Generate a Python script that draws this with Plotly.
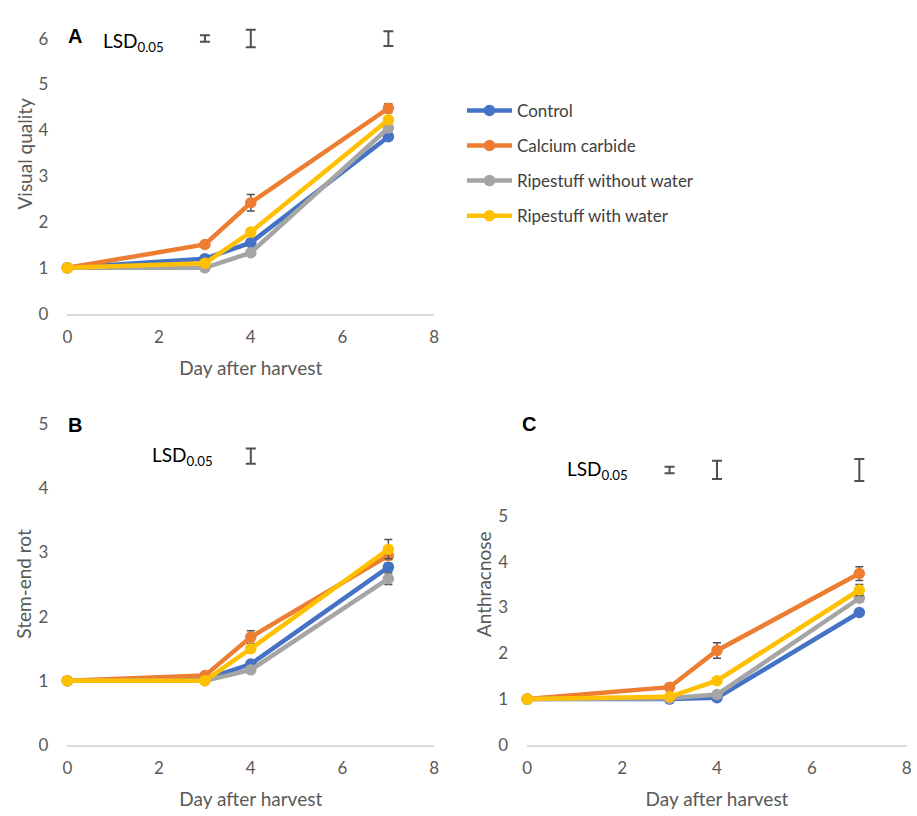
import plotly.graph_objects as go

# ---------------- data ----------------
days = [0, 3, 4, 7]
series_names = ["Control", "Calcium carbide", "Ripestuff without water", "Ripestuff with water"]
colors = ["#4472C4", "#ED7D31", "#A5A5A5", "#FFC000"]

# Panel A: Visual quality
vq_control = [1.0, 1.20, 1.55, 3.86]
vq_calcium = [1.0, 1.51, 2.42, 4.48]
vq_ripe_wo = [1.0, 1.00, 1.33, 4.05]
vq_ripe_w = [1.0, 1.10, 1.78, 4.23]
vq_err_control = [0.0, 0.05, 0.05, 0.05]
vq_err_calcium = [0.0, 0.05, 0.18, 0.10]
vq_err_ripe_wo = [0.0, 0.05, 0.05, 0.05]
vq_err_ripe_w = [0.0, 0.05, 0.05, 0.05]
lsd_days_A = [3, 4, 7]
lsd_A = [0.07, 0.19, 0.16]

# Panel B: Stem-end rot
ser_control = [1.0, 1.02, 1.26, 2.77]
ser_calcium = [1.0, 1.08, 1.68, 2.95]
ser_ripe_wo = [1.0, 1.00, 1.17, 2.59]
ser_ripe_w = [1.0, 1.00, 1.50, 3.05]
ser_err_control = [0.0, 0.03, 0.05, 0.06]
ser_err_calcium = [0.0, 0.03, 0.10, 0.06]
ser_err_ripe_wo = [0.0, 0.03, 0.05, 0.09]
ser_err_ripe_w = [0.0, 0.03, 0.05, 0.15]
lsd_days_B = [4]
lsd_B = [0.12]

# Panel C: Anthracnose
an_control = [1.0, 1.00, 1.03, 2.89]
an_calcium = [1.0, 1.26, 2.06, 3.74]
an_ripe_wo = [1.0, 1.02, 1.10, 3.20]
an_ripe_w = [1.0, 1.05, 1.40, 3.38]
an_err_control = [0.0, 0.03, 0.05, 0.06]
an_err_calcium = [0.0, 0.05, 0.17, 0.15]
an_err_ripe_wo = [0.0, 0.03, 0.05, 0.08]
an_err_ripe_w = [0.0, 0.03, 0.05, 0.12]
lsd_days_C = [3, 4, 7]
lsd_C = [0.07, 0.20, 0.24]

panels = [
    dict(xa="x", ya="y", vals=[vq_control, vq_calcium, vq_ripe_wo, vq_ripe_w],
         errs=[vq_err_control, vq_err_calcium, vq_err_ripe_wo, vq_err_ripe_w],
         lsd_x=lsd_days_A, lsd=lsd_A, lsd_y=6.0, legend=True),
    dict(xa="x2", ya="y2", vals=[ser_control, ser_calcium, ser_ripe_wo, ser_ripe_w],
         errs=[ser_err_control, ser_err_calcium, ser_err_ripe_wo, ser_err_ripe_w],
         lsd_x=lsd_days_B, lsd=lsd_B, lsd_y=4.5, legend=False),
    dict(xa="x3", ya="y3", vals=[an_control, an_calcium, an_ripe_wo, an_ripe_w],
         errs=[an_err_control, an_err_calcium, an_err_ripe_wo, an_err_ripe_w],
         lsd_x=lsd_days_C, lsd=lsd_C, lsd_y=6.0, legend=False),
]

FONT = "Lato, 'Open Sans', sans-serif"
AXC = "#595959"
ERRC = "#505050"

fig = go.Figure()
for p in panels:
    for name, col, v, e in zip(series_names, colors, p["vals"], p["errs"]):
        fig.add_trace(go.Scatter(
            x=days, y=v, name=name, mode="lines+markers",
            line=dict(color=col, width=4.5),
            marker=dict(color=col, size=11.5),
            error_y=dict(type="data", array=e, visible=True, color=ERRC,
                         thickness=1.5, width=4),
            xaxis=p["xa"], yaxis=p["ya"],
            showlegend=p["legend"], legendgroup=name,
            cliponaxis=False,
        ))
    fig.add_trace(go.Scatter(
        x=p["lsd_x"], y=[p["lsd_y"]] * len(p["lsd_x"]), mode="markers",
        marker=dict(size=1, color="rgba(0,0,0,0)"),
        error_y=dict(type="data", array=p["lsd"], visible=True, color=ERRC,
                     thickness=2, width=5),
        xaxis=p["xa"], yaxis=p["ya"], showlegend=False, hoverinfo="skip",
        cliponaxis=False,
    ))

W, H = 917, 816

def xd(a, b):
    return [a / W, b / W]

def yd(bottom_px, top_px):
    return [1 - bottom_px / H, 1 - top_px / H]

xaxis_common = dict(
    range=[0, 8], tickvals=[0, 2, 4, 6, 8], showgrid=False, zeroline=False,
    showline=True, linecolor="#D9D9D9", linewidth=1.5, ticks="",
    tickfont=dict(family=FONT, size=17, color=AXC), ticklabelstandoff=7,
    title=dict(text="Day after harvest", font=dict(family=FONT, size=19, color=AXC), standoff=16),
)
yaxis_common = dict(
    showgrid=False, zeroline=False, showline=False, ticks="",
    tickfont=dict(family=FONT, size=17, color=AXC), ticklabelstandoff=18,
)

fig.update_layout(
    width=W, height=H, margin=dict(l=0, r=0, t=0, b=0),
    paper_bgcolor="white", plot_bgcolor="white",
    font=dict(family=FONT),
    xaxis=dict(domain=xd(63, 434), anchor="y", **xaxis_common),
    yaxis=dict(domain=yd(310.7, 4.75), anchor="x", range=[0, 6.5],
               tickvals=[0, 1, 2, 3, 4, 5, 6], **yaxis_common),
    xaxis2=dict(domain=xd(63, 434), anchor="y2", **xaxis_common),
    yaxis2=dict(domain=yd(753.3, 424), anchor="x2", range=[0, 5],
                tickvals=[0, 1, 2, 3, 4, 5], **yaxis_common),
    xaxis3=dict(domain=xd(528, 911.7), anchor="y3", **xaxis_common),
    yaxis3=dict(domain=yd(753.3, 424), anchor="x3", range=[0, 7],
                tickvals=[0, 1, 2, 3, 4, 5], **yaxis_common),
    legend=dict(x=462 / W, y=1 - 84 / H, xanchor="left", yanchor="top",
                font=dict(family=FONT, size=17, color="#404040"),
                traceorder="grouped", tracegroupgap=10, itemwidth=45,
                bgcolor="rgba(0,0,0,0)"),
    showlegend=True,
)

ann = []
# panel letters (paper coordinates)
letters = [("A", 62, 26), ("B", 62, 425), ("C", 521, 424)]
for t, px, py in letters:
    ann.append(dict(text="<b>%s</b>" % t, x=px / W, y=1 - py / H, xref="paper", yref="paper",
                    showarrow=False, xanchor="left", yanchor="middle",
                    font=dict(family="Liberation Sans, Arial", size=20, color="#000000")))
lsd_ann = [
    dict(x=0.74, y=5.92, xref="x", yref="y"),
    dict(x=1.8, y=4.5, xref="x2", yref="y2"),
    dict(x=0.80, y=5.99, xref="x3", yref="y3"),
]
for a in lsd_ann:
    a.update(text="LSD<sub>0.05</sub>", showarrow=False, xanchor="left", yanchor="middle",
             font=dict(family=FONT, size=19, color="#000000"))
ann.extend(lsd_ann)
# y axis titles
ytitles = [("Visual quality", 19.5, 146), ("Stem-end rot", 19, 588), ("Anthracnose", 484.5, 588)]
for t, px, py in ytitles:
    ann.append(dict(text=t, x=px / W, y=1 - py / H, xref="paper", yref="paper",
                    textangle=-90, showarrow=False, xanchor="center", yanchor="middle",
                    font=dict(family=FONT, size=19, color=AXC)))
fig.update_layout(annotations=ann)

fig.write_html("out.html")
